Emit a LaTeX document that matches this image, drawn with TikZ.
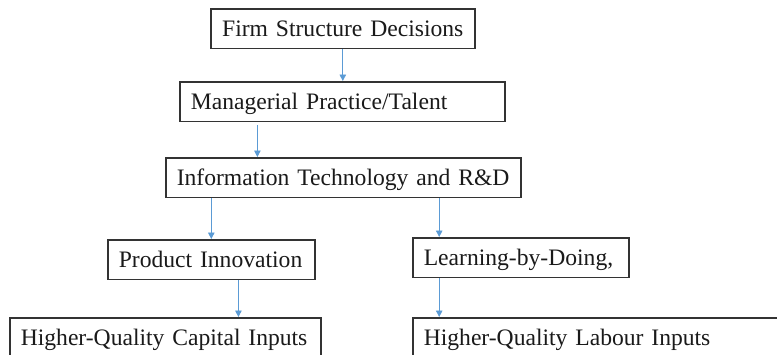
\documentclass[tikz,border=0pt]{standalone}
\usepackage{fontspec}
\setmainfont{Liberation Serif}
\usetikzlibrary{arrows.meta, positioning, calc}
\definecolor{flowblue}{HTML}{5B9BD5}
\definecolor{boxgrey}{HTML}{333333}
\definecolor{inkblack}{HTML}{1A1A1A}

\begin{document}
\begin{tikzpicture}[x=1pt, y=-1pt,
  box/.style={draw=boxgrey, line width=1.6pt, anchor=north west, inner xsep=11pt, inner ysep=0pt,
    minimum height=39.5pt, align=left, text=inkblack, font=\fontsize{23.6}{28}\selectfont,
    text height=16pt, text depth=0pt},
  flow/.style={-{Triangle[length=6.5pt, width=6.5pt]}, flowblue, line width=0.9pt}]

% Frame
\path[use as bounding box, clip] (0,0) rectangle (777,354);
\fill[white] (0,0) rectangle (777,354);

% Boxes (one line each, \mbox keeps the text from wrapping)
\node[box, align=center, text width=242pt] (fsd) at (210,8) {\mbox{Firm Structure Decisions}};
\node[box, text width=303pt] (mpt) at (179,81) {\mbox{Managerial Practice/Talent}};
\node[box, text width=333pt] (itrd) at (165,157) {\mbox{Information Technology and R\&D}};
\node[box, text width=185pt] (pin) at (107,239) {\mbox{Product Innovation}};
\node[box, text width=194pt] (lbd) at (412,237) {\mbox{Learning-by-Doing,}};
\node[box, text width=289pt] (hqc) at (9,317) {\mbox{Higher-Quality Capital Inputs}};
\node[box, text width=368pt] (hql) at (412,317) {\mbox{Higher-Quality Labour Inputs}};

% Arrows
\draw[flow] (fsd.south) -- (fsd.south |- mpt.north);

\coordinate (m2) at ($(mpt.south west)!0.24!(mpt.south east)$);
\draw[flow, shorten <=3pt] (m2) -- (m2 |- itrd.north);

\draw[flow] (pin.north |- itrd.south) -- (pin.north);

\coordinate (l2) at ($(lbd.north west)!0.125!(lbd.north east)$);
\draw[flow] (l2 |- itrd.south) -- (l2);

\coordinate (p2) at ($(pin.south west)!0.63!(pin.south east)$);
\draw[flow] (p2) -- (p2 |- hqc.north);

\draw[flow] (l2 |- lbd.south) -- (l2 |- hql.north);

\end{tikzpicture}
\end{document}
